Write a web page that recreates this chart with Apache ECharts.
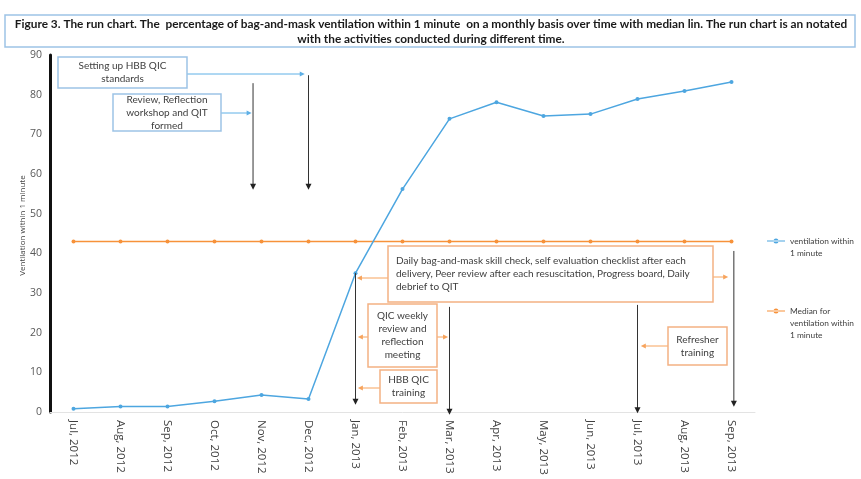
<!DOCTYPE html>
<html>
<head>
<meta charset="utf-8">
<script src="https://cdn.jsdelivr.net/npm/echarts@6/dist/echarts.min.js"></script>
<style>
html,body{margin:0;padding:0;background:#fff;}
#main{width:861px;height:479px;}
</style>
</head>
<body>
<div id="main"></div>
<script>
// ---- data ----
const categories = ['Jul, 2012','Aug, 2012','Sep, 2012','Oct, 2012','Nov, 2012','Dec, 2012',
  'Jan, 2013','Feb, 2013','Mar, 2013','Apr, 2013','May, 2013','Jun, 2013','Jul, 2013','Aug, 2013','Sep, 2013'];
const ventilation = [0.8, 1.4, 1.4, 2.7, 4.3, 3.3, 35, 56.2, 73.9, 78.1, 74.6, 75.1, 78.9, 80.9, 83.2];
const median = [43, 43, 43, 43, 43, 43, 43, 43, 43, 43, 43, 43, 43, 43, 43];
const yTicks = [0, 10, 20, 30, 40, 50, 60, 70, 80, 90];
const seriesNames = ['ventilation within 1 minute', 'Median for ventilation within 1 minute'];
const legendLines = [['ventilation within', '1 minute'], ['Median for', 'ventilation within', '1 minute']];
const titleLines = [
  'Figure 3. The run chart. The  percentage of bag-and-mask ventilation within 1 minute  on a monthly basis over time with median lin. The run chart is an notated',
  'with the activities conducted during different time.'
];
const annotationTexts = [
  'Setting up HBB QIC\nstandards',
  'Review, Reflection\nworkshop and QIT\nformed',
  'Daily bag-and-mask skill check, self evaluation checklist after each\ndelivery, Peer review after each resuscitation, Progress board, Daily\ndebrief to QIT',
  'QIC weekly\nreview and\nreflection\nmeeting',
  'HBB QIC\ntraining',
  'Refresher\ntraining'
];

// ---- layout (not data) ----
const BLUE = '#4da6e0', ORANGE = '#f7923a';
const BOX_BLUE = '#9dc3e6', BOX_OR = '#f4b183';
const ARROW_BLUE = '#5fb0e6', ARROW_OR = '#f7a35c';
const FONT = 'Lato, "Open Sans", sans-serif';
const AXFONT = '"Open Sans", "Liberation Sans", sans-serif';

const measureCtx = document.createElement('canvas').getContext('2d');
function fitSize(text, weight, family, target) {
  measureCtx.font = weight + ' 100px ' + family;
  return 100 * target / measureCtx.measureText(text).width;
}
const titleSize = fitSize(titleLines[0], 'bold', FONT, 833);
const annSize = fitSize(annotationTexts[2].split('\n')[0], 'normal', FONT, 290);
const legendSize = fitSize(legendLines[0][0], 'normal', FONT, 64);

// boxes: [x, y, w, h, colour, align]
const boxes = [
  [58, 57, 129, 31, 'b', 'center'],
  [113, 94, 108, 37, 'b', 'center'],
  [388, 246, 325, 56, 'o', 'left'],
  [368, 304, 69, 63, 'o', 'center'],
  [380, 370, 57, 33, 'o', 'center'],
  [668, 327, 59, 38, 'o', 'center']
];
// coloured connector arrows: [fromX, fromY, toCategoryIndex, colour]
const connectors = [
  [187, 74, 4.92, 'b'],
  [221, 113, 3.79, 'b'],
  [388, 278, 6.03, 'o'],
  [713, 277, 13.93, 'o'],
  [368, 337, 6.05, 'o'],
  [437, 337, 7.97, 'o'],
  [380, 388, 6.05, 'o'],
  [668, 346, 12.07, 'o']
];
// black vertical arrows: [categoryIndex, topValue, bottomValue]
const vArrows = [
  [3.82, 82.9, 56],
  [5, 84.9, 56],
  [6, 35, 1.8],
  [8, 26.5, -0.7],
  [12, 27, -0.3],
  [14.05, 40.6, 1.3]
];

const chart = echarts.init(document.getElementById('main'));
const option = {
  backgroundColor: '#fff',
  animation: false,
  textStyle: { fontFamily: FONT },
  grid: { left: 50, top: 55, width: 705, height: 357 },
  legend: {
    orient: 'vertical',
    left: 767,
    top: 223,
    padding: 0,
    itemGap: 22,
    itemWidth: 18,
    itemHeight: 6,
    icon: 'path://M0,2.5 L18,2.5 L18,3.5 L0,3.5 Z M6.5,3 A2.5,2.5 0 1,0 11.5,3 A2.5,2.5 0 1,0 6.5,3 Z',
    data: seriesNames,
    formatter: function (n) {
      const lines = legendLines[seriesNames.indexOf(n)];
      const pad = [];
      for (let i = 1; i < lines.length; i++) pad.push(' ');
      return pad.concat(lines).join('\n');
    },
    textStyle: { fontSize: legendSize, color: '#404040', lineHeight: 12, fontFamily: FONT }
  },
  xAxis: {
    type: 'category',
    data: categories,
    boundaryGap: true,
    axisLine: { lineStyle: { color: '#e3e3e3', width: 1 } },
    axisTick: { show: false },
    axisLabel: { rotate: -90, fontSize: 11.5, color: '#404040', margin: 8, interval: 0, fontFamily: AXFONT },
    splitLine: { show: false }
  },
  yAxis: {
    type: 'value',
    min: yTicks[0],
    max: yTicks[yTicks.length - 1],
    interval: yTicks[1] - yTicks[0],
    name: 'Ventilation within 1 minute',
    nameLocation: 'middle',
    nameMoveOverlap: false,
    nameGap: 23,
    nameTextStyle: { fontSize: 8, color: '#404040', fontFamily: AXFONT, padding: [0, 0, 0, 16] },
    axisLine: { show: true, lineStyle: { color: '#111', width: 3 } },
    axisTick: { show: false },
    axisLabel: { fontSize: 10.5, color: '#595959', margin: 8, fontFamily: AXFONT },
    splitLine: { show: false }
  },
  series: [
    {
      name: seriesNames[0], type: 'line', data: ventilation,
      symbol: 'circle', symbolSize: 4,
      lineStyle: { color: BLUE, width: 1.5 }, itemStyle: { color: BLUE }, z: 3
    },
    {
      name: seriesNames[1], type: 'line', data: median,
      symbol: 'circle', symbolSize: 4,
      lineStyle: { color: ORANGE, width: 1.5 }, itemStyle: { color: ORANGE }, z: 2
    }
  ]
};
chart.setOption(option);

function catPx(idx, val) {
  const i0 = Math.floor(idx), f = idx - i0;
  const a = chart.convertToPixel({ gridIndex: 0 }, [i0, val]);
  if (f === 0) return a;
  const b = chart.convertToPixel({ gridIndex: 0 }, [i0 + 1, val]);
  return [a[0] + (b[0] - a[0]) * f, a[1]];
}
function yPx(v) { return chart.convertToPixel({ yAxisIndex: 0 }, v); }

const g = [];
// title box
g.push({ type: 'rect', shape: { x: 5, y: 15, width: 850, height: 32 }, style: { fill: '#fff', stroke: BOX_BLUE, lineWidth: 1.5 }, z: 10 });
g.push({ type: 'text', x: 431, y: 24, style: { text: titleLines[0], fill: '#1a1a1a', font: 'bold ' + titleSize.toFixed(2) + 'px ' + FONT, align: 'center', verticalAlign: 'middle' }, z: 11 });
g.push({ type: 'text', x: 431, y: 39, style: { text: titleLines[1], fill: '#1a1a1a', font: 'bold ' + titleSize.toFixed(2) + 'px ' + FONT, align: 'center', verticalAlign: 'middle' }, z: 11 });

// black vertical arrows
vArrows.forEach(function (a) {
  const x = catPx(a[0], 0)[0];
  const y1 = yPx(a[1]), y2 = yPx(a[2]);
  g.push({ type: 'line', shape: { x1: x, y1: y1, x2: x, y2: y2 - 5 }, style: { stroke: '#333', lineWidth: 1 }, z: 12 });
  g.push({ type: 'polygon', shape: { points: [[x - 3, y2 - 6], [x + 3, y2 - 6], [x, y2]] }, style: { fill: '#222' }, z: 12 });
});

// connectors
connectors.forEach(function (c) {
  const x2 = catPx(c[2], 0)[0];
  const y = c[1];
  const col = c[3] === 'b' ? ARROW_BLUE : ARROW_OR;
  const dir = x2 > c[0] ? 1 : -1;
  g.push({ type: 'line', shape: { x1: c[0], y1: y, x2: x2 - dir * 3, y2: y }, style: { stroke: col, lineWidth: 1 }, z: 12 });
  g.push({ type: 'polygon', shape: { points: [[x2 - dir * 5, y - 2.5], [x2 - dir * 5, y + 2.5], [x2, y]] }, style: { fill: col }, z: 12 });
});

// boxes
boxes.forEach(function (b, i) {
  const stroke = b[4] === 'b' ? BOX_BLUE : BOX_OR;
  g.push({ type: 'rect', shape: { x: b[0], y: b[1], width: b[2], height: b[3] }, style: { fill: '#fff', stroke: stroke, lineWidth: 1.5 }, z: 13 });
  const tx = b[5] === 'center' ? b[0] + b[2] / 2 : b[0] + 8;
  g.push({ type: 'text', x: tx, y: b[1] + b[3] / 2, style: { text: annotationTexts[i], fill: '#404040', font: annSize.toFixed(2) + 'px ' + FONT, lineHeight: 13, align: b[5], verticalAlign: 'middle' }, z: 14 });
});

chart.setOption({ graphic: g });
</script>
</body>
</html>
